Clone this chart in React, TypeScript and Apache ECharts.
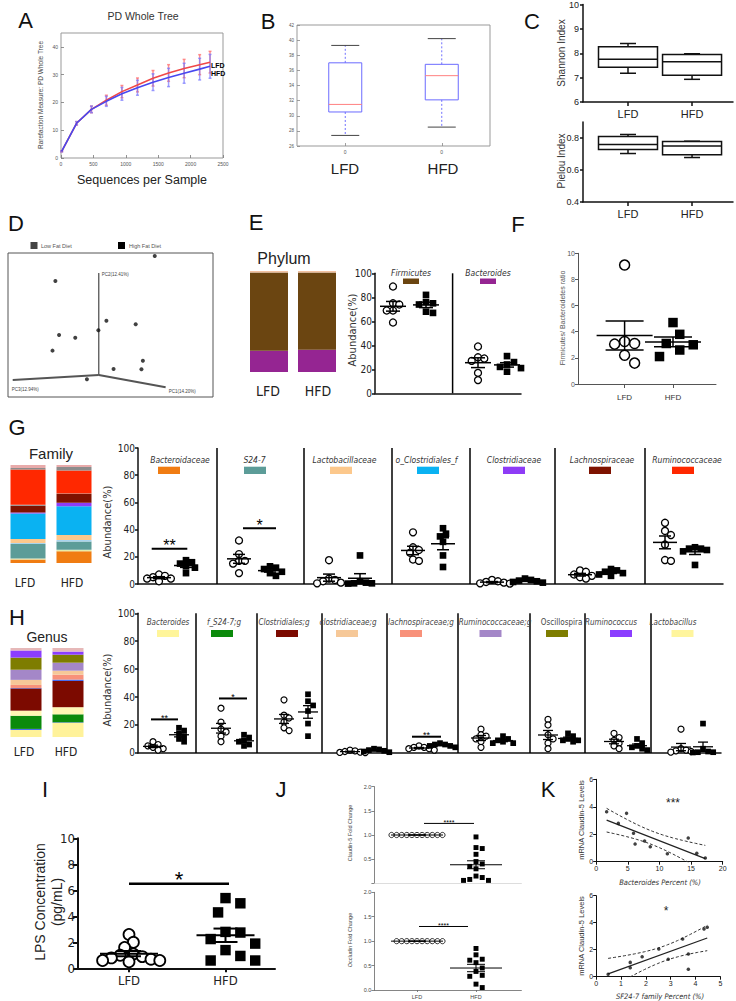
import React, { useEffect, useRef } from "react";
import * as echarts from "echarts";

/* ====================== DATA ====================== */
// A — rarefaction (PD whole tree)
const rareDepth = [10, 240, 470, 700, 940, 1180, 1420, 1660, 1900, 2140, 2300];
const rareLFD = [2.4, 12.5, 17.5, 20.8, 23.9, 26.3, 28.7, 30.6, 32.2, 33.6, 34.5];
const rareHFD = [2.4, 12.5, 17.5, 20.4, 23.1, 25.3, 27.3, 29.0, 30.5, 32.0, 33.0];
const rareSdLFD = [0.2, 0.6, 1.2, 1.8, 2.2, 2.5, 2.8, 3.0, 3.3, 3.6, 3.9];
const rareSdHFD = [0.2, 0.6, 1.2, 1.8, 2.3, 2.7, 3.0, 3.3, 3.6, 3.9, 4.3];

// B — PD whole tree box plot [min, q1, median, q3, max]
const pdBoxLFD = [27.4, 30.5, 31.5, 37.0, 39.3];
const pdBoxHFD = [28.5, 32.1, 35.3, 36.8, 40.2];

// C — Shannon / Pielou box plots
const shannonLFD = [7.18, 7.43, 7.75, 8.27, 8.4];
const shannonHFD = [6.93, 7.1, 7.65, 7.95, 7.98];
const pielouLFD = [0.703, 0.728, 0.76, 0.81, 0.822];
const pielouHFD = [0.678, 0.695, 0.75, 0.778, 0.78];

// D — PCoA (projected coordinates, 0-100)
const pcaPoints = [[71.6, 97.9], [23.1, 80.6], [48.0, 53.0], [62.3, 50.5], [24.9, 43.1], [32.8, 41.2], [44.1, 46.3], [21.7, 32.2], [65.8, 25.2], [51.5, 19.4], [65.1, 19.2], [38.5, 12.3]];
const pcaOrigin = [44.3, 15.3];
const pcaAxisEnds = [[44.3, 86.1], [76.9, 6.7], [2.3, 11.8]];
const pcaAxisNames = ["PC2(12.41%)", "PC1(14.20%)", "PC3(12.94%)"];
const dietNames = ["Low Fat Diet", "High Fat Diet"];

const groups = ["LFD", "HFD"];

// E — phylum
const phylumNames = ["Bacteroidetes", "Firmicutes", "Other"];
const phylumLFD = [21, 77.5, 1.5];
const phylumHFD = [22, 76.5, 1.5];
const phylumTaxa = ["Firmicutes", "Bacteroides"];
const firmicutesLFD = [89, 75, 74, 69, 69, 59];
const firmicutesHFD = [82, 76, 75, 74, 68, 67];
const bacteroidesLFD = [39, 30, 29, 27, 17, 11];
const bacteroidesHFD = [31, 26, 24, 22, 21, 18];

// F — Firmicutes / Bacteroidetes ratio
const ratioLFD = [9.1, 3.25, 3.1, 3.05, 2.2, 1.6];
const ratioHFD = [4.7, 3.8, 3.1, 3.0, 2.6, 2.1];

// G — family
const familyStackNames = ["Bacteroidaceae", "other_a", "S24-7", "other_b", "Lactobacillaceae", "o_Clostridiales_f", "Clostridiaceae", "Lachnospiraceae", "other_c", "Ruminococcaceae", "other_d", "other_e"];
const familyStackLFD = [3.5, 1, 15, 1, 4, 26, 1, 7, 1, 36, 1.5, 3];
const familyStackHFD = [12, 1.5, 8.5, 1.5, 5, 29.5, 3.5, 9, 0.5, 23.5, 3.5, 2];
const familyTaxa = ["Bacteroidaceae", "S24-7", "Lactobacillaceae", "o_Clostridiales_f", "Clostridiaceae", "Lachnospiraceae", "Ruminococcaceae"];
const familyLFD = [[7, 6, 5, 4, 4, 2], [32, 22, 17, 17, 15, 8], [17.5, 4, 3, 2, 1, 0.5], [38, 27, 25, 23, 18, 17], [3, 2, 1.5, 1, 0.5, 0.3], [10, 9, 7, 6, 5, 4], [45, 39, 36, 29, 17.6, 17]];
const familyHFD = [[17.5, 16, 15, 13, 12, 8], [13, 12, 11, 9, 8, 6], [21, 2, 1, 0.5, 0.5, 0.3], [41, 37, 35, 31, 21, 12.5], [4, 3, 2.5, 2, 1.5, 1], [11, 10, 9, 8, 7, 6], [27, 26, 26, 25, 24, 14]];
const familySigLevel = [26, 41];
const familySigMark = ["**", "*"];

// H — genus
const genusStackNames = ["Lactobacillus", "other_a", "f_S24-7;g", "Bacteroides", "Clostridiales;g", "other_b", "lachnospiraceae;g", "clostridiaceae;g", "Ruminococcaceae;g", "Oscillospira", "Ruminococcus", "other_c"];
const genusStackLFD = [8, 1.1, 14.8, 5.7, 25, 0.5, 3.4, 5.7, 11.4, 13.6, 8, 2.8];
const genusStackHFD = [16, 0.5, 9, 8, 29.5, 1.5, 5.5, 4.5, 9, 9, 3.5, 4];
const genusTaxa = ["Bacteroides", "f_S24-7;g", "Clostridiales;g", "clostridiaceae;g", "lachnospiraceae;g", "Ruminococcaceae;g", "Oscillospira", "Ruminococcus", "Lactobacillus"];
const genusLFD = [[8, 6, 5, 4, 3, 2], [32, 22, 17, 15, 12, 8], [38, 27, 25, 22, 18, 16], [2, 1.5, 1, 0.5, 0.3, 0.2], [5, 4, 4, 3, 3, 2], [17, 13, 12, 10, 8, 4], [24, 20, 13, 10, 7, 3], [14, 11, 9, 7, 5, 3], [17, 3, 2, 1.5, 1, 0.5]];
const genusHFD = [[18, 16, 14, 12, 10, 8], [13, 11, 9, 8, 6, 5], [42, 37, 34, 30, 21, 12], [3, 2.5, 2, 1.5, 1, 0.5], [7, 6, 6, 5, 5, 4], [12, 10, 9, 8, 7, 7], [14, 12, 10, 9, 9, 8], [10, 7, 5, 4, 3, 2], [21, 3, 1, 0.5, 0.5, 0.3]];
const genusSigLevel = [24, 39, 11.6];
const genusSigMark = ["**", "*", "**"];

// I — LPS
const lpsLFD = [2.6, 2.0, 1.6, 1.1, 1.0, 0.9, 0.8, 0.7, 0.6, 0.6, 0.5];
const lpsHFD = [5.4, 5.0, 4.3, 2.8, 2.75, 2.25, 1.9, 1.4, 0.95, 0.6, 0.6];
const lpsSigLevel = 6.5;

// J — fold change
const claudinLFD = [1, 1, 1, 1, 1, 1, 1, 1, 1, 1, 1];
const claudinHFD = [0.96, 0.74, 0.72, 0.6, 0.45, 0.4, 0.35, 0.3, 0.12, 0.08, 0.06, 0.06, 0.15];
const occludinLFD = [1, 1, 1, 1, 1, 1, 1, 1, 1, 1];
const occludinHFD = [0.85, 0.72, 0.63, 0.61, 0.56, 0.45, 0.38, 0.3, 0.28, 0.12, 0.05];
const claudinSigLevel = 1.24;
const occludinSigLevel = 1.3;

// K — correlations
const bactPct = [1.65, 3.5, 4.8, 5.9, 6.15, 7.65, 8.55, 11.25, 14.55, 15.9, 17.25];
const claudinVsBact = [3.64, 2.79, 3.52, 2.07, 1.29, 1.5, 1.09, 0.58, 1.72, 0.61, 0.27];
const sf24Pct = [0.48, 1.37, 1.37, 1.85, 2.52, 2.9, 3.48, 3.71, 3.71, 4.34, 4.47];
const claudinVsSf24 = [0.18, 1.06, 0.67, 1.48, 2.05, 1.29, 2.79, 1.68, 0.55, 3.53, 3.66];
const T975_DF9 = 2.262;

/* ====================== STYLE / LAYOUT ====================== */
const SANS = "'Liberation Sans', Arial, Helvetica, sans-serif";
const NARROW = "'Liberation Sans Narrow', 'DejaVu Sans Condensed', 'Liberation Sans', sans-serif";
const phylumColors = ["#952592", "#6B4511", "#F2C2A2"];
const phylumSwatch = ["#6B4511", "#952592"];
const familyStackColors = ["#F07C12", "#E8ECA8", "#5C9C98", "#A8D4EE", "#FCC88C", "#0AB2F2", "#8E3CF6", "#7E1200", "#8A8A8A", "#FF2800", "#8C8C8C", "#E8AAAA"];
const familyColors = ["#F07C12", "#5C9C98", "#FCC88C", "#0AB2F2", "#8E3CF6", "#7E1200", "#FF2800"];
const genusStackColors = ["#FFF29A", "#2E5BE8", "#0B8A0B", "#FFF6B4", "#7C0A00", "#3A62F0", "#F8917A", "#F6C898", "#A487C8", "#7E7D00", "#8B3DFF", "#E6B8B8"];
const genusColors = ["#FFF59A", "#0B8A0B", "#7C0A00", "#F6C898", "#F8917A", "#A487C8", "#7E7D00", "#8B3DFF", "#FFF59D"];

const G_DIV = [217, 304, 392, 470, 555, 645];
const G_CENTERS = [[159, 186], [239, 270], [329, 360], [413, 443], [492, 525], [580, 611], [665, 695]];
const G_LABEL_X = [180, 254.5, 344.5, 426.5, 514, 602, 687];
const G_SWATCH_X = [169, 255, 341, 428, 514, 600, 683];
const G_SIG_X = [[151.7, 187.3], [243, 276]];
const H_DIV = [196, 257, 322, 387, 458, 530, 585, 651];
const H_CENTERS = [[153, 179], [221, 244], [284, 308], [350, 374], [419, 440], [481, 503], [548, 568], [614, 637], [681, 703]];
const H_LABEL_X = [168, 224, 284, 348, 421, 495, 561.6, 611, 673];
const H_SWATCH_X = [168, 222, 287, 347, 411, 490.5, 557, 621, 682.5];
const H_SIG_X = [[151, 178], [219, 247], [412, 441]];

/* ====================== HELPERS ====================== */
function mean(v: number[]) { return v.reduce((a, b) => a + b, 0) / v.length; }
function sem(v: number[]) {
  const m = mean(v);
  return Math.sqrt(v.reduce((a, b) => a + (b - m) * (b - m), 0) / (v.length - 1)) / Math.sqrt(v.length);
}
function swarm(values: number[], cx: number, pxPerY: number, size: number, factor: number) {
  const order = values.map((_, i) => i).sort((a, b) => values[b] - values[a]);
  const placed: number[][] = [];
  const out: number[][] = new Array(values.length);
  const minD = size * factor;
  for (const i of order) {
    const py = values[i] * pxPerY;
    let dx = 0;
    for (let k = 0; k < 80; k++) {
      const step = Math.ceil(k / 2) * (k % 2 ? 1 : -1) * minD * 0.5;
      if (placed.every(([qx, qy]) => Math.hypot(qx - step, qy - py) >= minD)) { dx = step; break; }
    }
    placed.push([dx, py]);
    out[i] = [cx + dx, values[i]];
  }
  return out;
}
function linreg(xs: number[], ys: number[]) {
  const n = xs.length, mx = mean(xs), my = mean(ys);
  let sxx = 0, sxy = 0;
  xs.forEach((x, i) => { sxx += (x - mx) ** 2; sxy += (x - mx) * (ys[i] - my); });
  const b = sxy / sxx, a = my - b * mx;
  let sse = 0;
  xs.forEach((x, i) => { sse += (ys[i] - (a + b * x)) ** 2; });
  return { a, b, s: Math.sqrt(sse / (n - 2)), mx, sxx, n };
}
const AL = { textAlign: "center", align: "center", textVerticalAlign: "middle", verticalAlign: "middle" };

function buildOption() {
  const grid: any[] = [], xAxis: any[] = [], yAxis: any[] = [], series: any[] = [], graphic: any[] = [];
  const addGrid = (r: number[], xa: any, ya: any, g: any = {}) => {
    const i = grid.length;
    grid.push({ left: r[0], top: r[1], width: r[2], height: r[3], containLabel: false, ...g });
    xAxis.push({ gridIndex: i, ...xa });
    yAxis.push({ gridIndex: i, ...ya });
    return i;
  };
  const text = (t: string, x: number, y: number, s: any = {}, rot = 0) => {
    graphic.push({ type: "text", x, y, rotation: rot, silent: true, z: 20,
      style: { text: t, fill: "#222", fontSize: 12, fontFamily: SANS, ...AL, ...s } });
  };
  const rect = (x: number, y: number, w: number, h: number, fill: string) =>
    graphic.push({ type: "rect", shape: { x, y, width: w, height: h }, style: { fill }, silent: true, z: 20 });

  const yAx = (min: number, max: number, interval: number, fs: number, o: any = {}) => ({
    type: "value", min, max, interval,
    axisLine: { show: o.line ?? true, onZero: false, lineStyle: { color: o.color || "#111", width: o.lw ?? 1.5 } },
    axisTick: { show: true, length: o.tick ?? 3, inside: !!o.inside, lineStyle: { color: o.color || "#111", width: o.lw ?? 1.5 } },
    axisLabel: { fontSize: fs, color: o.labelColor || "#222", margin: o.margin ?? 3, fontFamily: o.font || NARROW, formatter: o.fmt, showMaxLabel: o.showMax ?? true },
    splitLine: { show: false },
  });
  const xAx = (min: number, max: number, o: any = {}) => ({
    type: "value", min, max,
    axisLine: { show: o.line ?? true, onZero: false, lineStyle: { color: o.color || "#111", width: o.lw ?? 1.5 } },
    axisTick: o.ticks ? { show: true, customValues: o.ticks, inside: !!o.inside, length: o.tick ?? 4, lineStyle: { color: o.color || "#111", width: o.lw ?? 1.5 } } : { show: false },
    axisLabel: o.names ? {
      show: true, customValues: o.ticks, fontSize: o.fs, color: o.labelColor || "#222", margin: o.margin ?? 4, fontFamily: o.font || SANS,
      formatter: (v: number) => {
        let best = 0;
        o.ticks.forEach((p: number, i: number) => { if (Math.abs(p - v) < Math.abs(o.ticks[best] - v)) best = i; });
        return o.names[best];
      },
    } : { show: false },
    splitLine: { show: false },
  });
  const numX = (min: number, max: number, interval: number, fs: number) => ({
    type: "value", min, max, interval,
    axisLine: { show: true, onZero: false, lineStyle: { color: "#111", width: 1 } },
    axisTick: { show: true, length: 3, lineStyle: { color: "#111", width: 1 } },
    axisLabel: { fontSize: fs, color: "#222", margin: 3, fontFamily: SANS },
    splitLine: { show: false },
  });

  const addBoxes = (gi: number, items: number[][], xs: number[], halfW: number, st: any) => {
    series.push({
      type: "custom", xAxisIndex: gi, yAxisIndex: gi, silent: true, z: 3,
      data: items.map((b, i) => [xs[i], ...b]),
      renderItem: (_p: any, api: any) => {
        const x = api.value(0);
        const c = [1, 2, 3, 4, 5].map((k) => api.coord([x, api.value(k)]));
        const cx = c[0][0];
        const w = { stroke: st.whisk, lineWidth: st.lw, ...(st.dash ? { lineDash: st.dash } : {}) };
        const cap = { stroke: st.cap, lineWidth: st.lw };
        return { type: "group", children: [
          { type: "line", shape: { x1: cx, y1: c[3][1], x2: cx, y2: c[4][1] }, style: w },
          { type: "line", shape: { x1: cx, y1: c[1][1], x2: cx, y2: c[0][1] }, style: w },
          { type: "line", shape: { x1: cx - st.capW, y1: c[4][1], x2: cx + st.capW, y2: c[4][1] }, style: cap },
          { type: "line", shape: { x1: cx - st.capW, y1: c[0][1], x2: cx + st.capW, y2: c[0][1] }, style: cap },
          { type: "rect", shape: { x: cx - halfW, y: c[3][1], width: 2 * halfW, height: c[1][1] - c[3][1] }, style: { fill: "none", stroke: st.box, lineWidth: st.lw } },
          { type: "line", shape: { x1: cx - halfW, y1: c[2][1], x2: cx + halfW, y2: c[2][1] }, style: { stroke: st.med, lineWidth: st.lw } },
        ] };
      },
    });
  };
  const addMeanSem = (gi: number, items: number[][], wMean: number, wCap: number, lw: number) => {
    series.push({
      type: "custom", xAxisIndex: gi, yAxisIndex: gi, silent: true, z: 5, data: items,
      renderItem: (_p: any, api: any) => {
        const x = api.value(0), m = api.value(1), s = api.value(2);
        const c = api.coord([x, m]), t = api.coord([x, m + s]), b = api.coord([x, m - s]);
        const ls = { stroke: "#000", lineWidth: lw };
        return { type: "group", children: [
          { type: "line", shape: { x1: c[0] - wMean, y1: c[1], x2: c[0] + wMean, y2: c[1] }, style: ls },
          { type: "line", shape: { x1: c[0], y1: t[1], x2: c[0], y2: b[1] }, style: ls },
          { type: "line", shape: { x1: c[0] - wCap, y1: t[1], x2: c[0] + wCap, y2: t[1] }, style: ls },
          { type: "line", shape: { x1: c[0] - wCap, y1: b[1], x2: c[0] + wCap, y2: b[1] }, style: ls },
        ] };
      },
    });
  };
  const addDots = (gi: number, lfd: number[], hfd: number[], cL: number, cH: number, pxPerY: number, size: number, bw: number, wMean: number, wCap: number, lw: number, f: number[]) => {
    series.push({ type: "scatter", xAxisIndex: gi, yAxisIndex: gi, silent: true, z: 3, data: swarm(lfd, cL, pxPerY, size, f[0]),
      symbol: "circle", symbolSize: size, itemStyle: { color: "#fff", borderColor: "#000", borderWidth: bw, opacity: 1 } });
    series.push({ type: "scatter", xAxisIndex: gi, yAxisIndex: gi, silent: true, z: 3, data: swarm(hfd, cH, pxPerY, size, f[1]),
      symbol: "rect", symbolSize: size * 0.95, itemStyle: { color: "#000", opacity: 1 } });
    addMeanSem(gi, [[cL, mean(lfd), sem(lfd)], [cH, mean(hfd), sem(hfd)]], wMean, wCap, lw);
  };
  const addDividers = (gi: number, xs: number[], yBot: number, yTop: number, lw: number) => {
    series.push({ type: "custom", xAxisIndex: gi, yAxisIndex: gi, silent: true, z: 2, data: xs.map((x) => [x, yBot]),
      renderItem: (_p: any, api: any) => {
        const a = api.coord([api.value(0), yBot]), b = api.coord([api.value(0), yTop]);
        return { type: "line", shape: { x1: a[0], y1: a[1], x2: b[0], y2: b[1] }, style: { stroke: "#000", lineWidth: lw } };
      } });
  };
  const addSig = (gi: number, x1: number, x2: number, y: number, mark: string, fs: number, lw: number) => {
    series.push({ type: "custom", xAxisIndex: gi, yAxisIndex: gi, silent: true, z: 6, data: [[x1, y, x2]],
      renderItem: (_p: any, api: any) => {
        const a = api.coord([api.value(0), api.value(1)]), b = api.coord([api.value(2), api.value(1)]);
        return { type: "group", children: [
          { type: "line", shape: { x1: a[0], y1: a[1], x2: b[0], y2: b[1] }, style: { stroke: "#000", lineWidth: lw } },
          { type: "text", style: { text: mark, x: (a[0] + b[0]) / 2, y: a[1] - fs * 0.2, fill: "#000", fontSize: fs, fontFamily: SANS, ...AL } },
        ] };
      } });
  };
  const addReg = (gi: number, xs: number[], ys: number[]) => {
    const r = linreg(xs, ys);
    const x0 = Math.min(...xs), x1 = Math.max(...xs);
    series.push({ type: "line", xAxisIndex: gi, yAxisIndex: gi, silent: true, symbol: "none", z: 4,
      data: [[x0, r.a + r.b * x0], [x1, r.a + r.b * x1]], lineStyle: { color: "#222", width: 1.3 } });
    const up: number[][] = [], lo: number[][] = [];
    const N = 30;
    for (let k = 0; k <= N; k++) {
      const x = x0 + ((x1 - x0) * k) / N;
      const yh = r.a + r.b * x;
      const h = T975_DF9 * r.s * Math.sqrt(1 / r.n + (x - r.mx) ** 2 / r.sxx);
      up.push([x, yh + h]); lo.push([x, yh - h]);
    }
    [up, lo].forEach((d) => series.push({ type: "line", xAxisIndex: gi, yAxisIndex: gi, silent: true, symbol: "none", z: 4, clip: true,
      data: d, lineStyle: { color: "#333", width: 1, type: [3, 2] } }));
  };
  const stackBars = (gi: number, names: string[], l: number[], h: number[], colors: string[], bw: number, key: string) => {
    names.forEach((n, k) => series.push({ type: "bar", name: n, xAxisIndex: gi, yAxisIndex: gi, stack: key, barWidth: bw, silent: true,
      data: [l[k], h[k]], itemStyle: { color: colors[k] } }));
  };
  const hiddenCat = { type: "category", data: groups, show: false };
  const hiddenVal = { type: "value", min: 0, max: 100, show: false };

  /* ---------- panel letters ---------- */
  const L = { fontSize: 22, fill: "#111" };
  text("A", 25.5, 20, L); text("B", 268, 21, L); text("C", 532, 21, L);
  text("D", 16, 223, L); text("E", 256, 222, L); text("F", 518, 224, L);
  text("G", 17, 427, L); text("H", 17, 617, L);
  text("I", 45, 789, L); text("J", 281, 789, L); text("K", 548, 789, L);

  /* ---------- A ---------- */
  const thinTick = { show: true, inside: true, length: 3, lineStyle: { color: "#777", width: 0.8 } };
  const gA = addGrid([61, 33, 162, 125],
    { type: "value", min: 0, max: 2500, interval: 500, axisLine: { show: false }, axisTick: thinTick, axisLabel: { fontSize: 5, color: "#555", margin: 3, formatter: (v: number) => String(v) }, splitLine: { show: false } },
    { type: "value", min: 0, max: 45, interval: 10, axisLine: { show: false }, axisTick: thinTick, axisLabel: { fontSize: 5, color: "#555", margin: 3, showMaxLabel: false }, splitLine: { show: false } },
    { show: true, borderColor: "#999", borderWidth: 1 });
  const errBar = (col: string) => (_p: any, api: any) => {
    const x = api.value(0), y = api.value(1), s = api.value(2);
    const t = api.coord([x, y + s]), b = api.coord([x, y - s]);
    const st = { stroke: col, lineWidth: 1.5 };
    return { type: "group", children: [
      { type: "line", shape: { x1: t[0], y1: t[1], x2: b[0], y2: b[1] }, style: st },
      { type: "line", shape: { x1: t[0] - 1.5, y1: t[1], x2: t[0] + 1.5, y2: t[1] }, style: st },
      { type: "line", shape: { x1: b[0] - 1.5, y1: b[1], x2: b[0] + 1.5, y2: b[1] }, style: st },
    ] };
  };
  series.push({ type: "custom", xAxisIndex: gA, yAxisIndex: gA, silent: true, z: 1, data: rareDepth.map((d, i) => [d, rareLFD[i], rareSdLFD[i]]), renderItem: errBar("rgba(255,110,110,0.75)") });
  series.push({ type: "custom", xAxisIndex: gA, yAxisIndex: gA, silent: true, z: 1, data: rareDepth.map((d, i) => [d, rareHFD[i], rareSdHFD[i]]), renderItem: errBar("rgba(120,120,255,0.7)") });
  series.push({ type: "line", xAxisIndex: gA, yAxisIndex: gA, silent: true, symbol: "none", z: 3, data: rareDepth.map((d, i) => [d, rareLFD[i]]), lineStyle: { color: "#f04848", width: 1.6 } });
  series.push({ type: "line", xAxisIndex: gA, yAxisIndex: gA, silent: true, symbol: "none", z: 3, data: rareDepth.map((d, i) => [d, rareHFD[i]]), lineStyle: { color: "#4848f0", width: 1.6 } });
  text("PD Whole Tree", 143, 16, { fontSize: 10.5, fill: "#333" });
  text("Rarefaction Measure: PD Whole Tree", 40, 95, { fontSize: 6.5, fill: "#444" }, Math.PI / 2);
  text("Sequences per Sample", 142, 180, { fontSize: 12.5 });
  text("LFD", 211, 65, { fontSize: 7, fontWeight: "bold", fill: "#000", textAlign: "left", align: "left" });
  text("HFD", 211, 73, { fontSize: 7, fontWeight: "bold", fill: "#000", textAlign: "left", align: "left" });

  /* ---------- B ---------- */
  const gB = addGrid([297, 25, 193, 121],
    xAx(0.5, 2.5, { ticks: [1, 2], names: ["0", "0"], fs: 5, color: "#888", lw: 0.8, line: false, tick: 3, inside: true, margin: 3, labelColor: "#555" }),
    yAx(26, 42, 2, 4.5, { color: "#888", lw: 0.8, inside: true, labelColor: "#555", font: SANS, line: false }),
    { show: true, borderColor: "#999", borderWidth: 1 });
  addBoxes(gB, [pdBoxLFD, pdBoxHFD], [1, 2], 16.5, { box: "#6b6bff", med: "#ff8080", whisk: "#7070ff", cap: "#444", dash: [2, 2], lw: 1, capW: 14 });
  text("LFD", 345, 168, { fontSize: 15 }); text("HFD", 443, 168, { fontSize: 15 });

  /* ---------- C ---------- */
  const C_POS = [0.3, 0.727];
  const gC1 = addGrid([583, 4, 150, 98], xAx(0, 1, { ticks: C_POS, names: groups, fs: 11, margin: 6 }), yAx(6, 10, 1, 9, { font: SANS, margin: 4 }));
  const gC2 = addGrid([583, 122, 150, 80], xAx(0, 1, { ticks: C_POS, names: groups, fs: 11, margin: 6 }),
    yAx(0.4, 0.9, 0.2, 9, { font: SANS, margin: 4, showMax: false, fmt: (v: number) => v.toFixed(1) }));
  const cStyle = { box: "#111", med: "#111", whisk: "#111", cap: "#111", lw: 1.5, capW: 8 };
  addBoxes(gC1, [shannonLFD, shannonHFD], C_POS, 29.5, cStyle);
  addBoxes(gC2, [pielouLFD, pielouHFD], C_POS, 29.5, cStyle);
  text("Shannon Index", 561, 53, { fontSize: 10, fill: "#333" }, Math.PI / 2);
  text("Pielou Index", 561, 161, { fontSize: 10, fill: "#333" }, Math.PI / 2);

  /* ---------- D ---------- */
  const gD = addGrid([8, 253, 205, 144], { type: "value", min: 0, max: 100, show: false }, { type: "value", min: 0, max: 100, show: false },
    { show: true, borderColor: "#555", borderWidth: 1 });
  pcaAxisEnds.forEach((e, i) => series.push({ type: "line", xAxisIndex: gD, yAxisIndex: gD, silent: true, symbol: "none", z: 2,
    data: [pcaOrigin, e], lineStyle: { color: i === 0 ? "#222" : "#555", width: i === 0 ? 1 : 2 } }));
  series.push({ type: "scatter", xAxisIndex: gD, yAxisIndex: gD, silent: true, z: 3, data: pcaPoints, symbolSize: 4, itemStyle: { color: "#111" } });
  const dpx = (p: number[]) => [8 + p[0] * 2.05, 397 - p[1] * 1.44];
  const pcaLabelOff = [[3, 1], [3, 4], [-1, 9]];
  pcaAxisEnds.forEach((e, i) => {
    const p = dpx(e);
    text(pcaAxisNames[i], p[0] + pcaLabelOff[i][0], p[1] + pcaLabelOff[i][1], { fontSize: 4.5, fill: "#444", textAlign: "left", align: "left" });
  });
  rect(30.5, 242, 7, 7, "#444"); rect(118, 242, 7, 7, "#000");
  text(dietNames[0], 41, 245.5, { fontSize: 5.5, fill: "#555", textAlign: "left", align: "left" });
  text(dietNames[1], 129, 245.5, { fontSize: 5.5, fill: "#555", textAlign: "left", align: "left" });

  /* ---------- E ---------- */
  const gEb = addGrid([245, 271, 96, 101], hiddenCat, hiddenVal);
  stackBars(gEb, phylumNames, phylumLFD, phylumHFD, phylumColors, 38, "phylum");
  text("Phylum", 284, 258, { fontSize: 16 });
  text("LFD", 268, 391, { fontSize: 14, fontFamily: NARROW }); text("HFD", 318, 391, { fontSize: 14, fontFamily: NARROW });
  const gE = addGrid([375, 273.3, 146, 120], xAx(375, 521), yAx(0, 100, 20, 10));
  addDividers(gE, [452.6], 0, 100, 1.5);
  addDots(gE, firmicutesLFD, firmicutesHFD, 393, 426, 1.2, 7, 1.3, 13, 7, 1.5, [0.9, 1.0]);
  addDots(gE, bacteroidesLFD, bacteroidesHFD, 478, 507, 1.2, 7, 1.3, 13, 7, 1.5, [0.9, 1.0]);
  text("Abundance(%)", 352, 330, { fontSize: 11, fontFamily: NARROW, fill: "#333" }, Math.PI / 2);
  [411, 488].forEach((x, i) => {
    text(phylumTaxa[i], x, 273, { fontSize: 8.5, fontStyle: "italic", fontFamily: NARROW, fill: "#333" });
    rect(x - 8, 278.5, 16, 5.5, phylumSwatch[i]);
  });

  /* ---------- F ---------- */
  const gF = addGrid([578, 253.3, 138, 130.7],
    xAx(578, 716, { ticks: [624.6, 673], names: groups, fs: 8, color: "#555", lw: 1, margin: 9, labelColor: "#333" }),
    yAx(0, 10, 2, 7, { color: "#555", lw: 1, labelColor: "#555", font: SANS }));
  addDots(gF, ratioLFD, ratioHFD, 624.6, 673, 13.07, 10, 1.5, 28, 19, 1.5, [1.0, 1.35]);
  text("Firmicutes/ Bacteroidetes ratio", 562, 318, { fontSize: 7, fill: "#555" }, Math.PI / 2);

  /* ---------- G ---------- */
  const gGb = addGrid([5, 465, 92, 98], hiddenCat, hiddenVal);
  stackBars(gGb, familyStackNames, familyStackLFD, familyStackHFD, familyStackColors, 35, "family");
  text("Family", 51, 453, { fontSize: 15 });
  text("LFD", 25, 583, { fontSize: 12, fontFamily: NARROW }); text("HFD", 72, 583, { fontSize: 12, fontFamily: NARROW });
  const gG = addGrid([138, 448, 585, 136], xAx(138, 723), yAx(0, 100, 20, 10));
  addDividers(gG, G_DIV, 0, 100, 1.5);
  familyTaxa.forEach((t, i) => {
    addDots(gG, familyLFD[i], familyHFD[i], G_CENTERS[i][0], G_CENTERS[i][1], 1.36, 7, 1.3, 12, 6, 1.5, [0.85, 0.85]);
    text(t, G_LABEL_X[i], 460, { fontSize: 8.5, fontStyle: "italic", fontFamily: NARROW, fill: "#333" });
    rect(G_SWATCH_X[i] - 11, 466.7, 22, 7.3, familyColors[i]);
  });
  familySigLevel.forEach((y, k) => addSig(gG, G_SIG_X[k][0], G_SIG_X[k][1], y, familySigMark[k], 16, 2));
  text("Abundance(%)", 107, 522, { fontSize: 11, fontFamily: NARROW, fill: "#333" }, Math.PI / 2);

  /* ---------- H ---------- */
  const gHb = addGrid([5, 648, 84, 89], hiddenCat, hiddenVal);
  stackBars(gHb, genusStackNames, genusStackLFD, genusStackHFD, genusStackColors, 31, "genus");
  text("Genus", 47, 637, { fontSize: 14 });
  text("LFD", 24, 752, { fontSize: 12, fontFamily: NARROW }); text("HFD", 66, 752, { fontSize: 12, fontFamily: NARROW });
  const gH = addGrid([138, 613.3, 583, 139.6], xAx(138, 721), yAx(0, 100, 20, 10));
  addDividers(gH, H_DIV, 0, 100, 1.5);
  genusTaxa.forEach((t, i) => {
    addDots(gH, genusLFD[i], genusHFD[i], H_CENTERS[i][0], H_CENTERS[i][1], 1.396, 6, 1.2, 10, 5, 1.3, [0.85, 0.85]);
    text(t, H_LABEL_X[i], 622.7, { fontSize: 8, fontStyle: t === "Oscillospira" ? "normal" : "italic", fontFamily: NARROW, fill: "#444" });
    rect(H_SWATCH_X[i] - 11, 630, 22, 7, genusColors[i]);
  });
  genusSigLevel.forEach((y, k) => addSig(gH, H_SIG_X[k][0], H_SIG_X[k][1], y, genusSigMark[k], 9, 2));
  text("Abundance(%)", 107, 690, { fontSize: 11, fontFamily: NARROW, fill: "#333" }, Math.PI / 2);

  /* ---------- I ---------- */
  const gI = addGrid([78, 838.3, 197, 130],
    xAx(78, 275, { ticks: [129, 225.5], names: groups, fs: 13, font: NARROW, lw: 2, margin: 6, tick: 4 }),
    yAx(0, 10, 2, 13, { lw: 2, tick: 5 }));
  addDots(gI, lpsLFD, lpsHFD, 129, 225.5, 13, 11, 1.8, 29, 12, 2, [0.8, 1.35]);
  addSig(gI, 129, 229, lpsSigLevel, "*", 22, 2.5);
  text("LPS Concentration", 40, 902, { fontSize: 14 }, Math.PI / 2);
  text("(pg/mL)", 57, 902, { fontSize: 14 }, Math.PI / 2);

  /* ---------- J ---------- */
  const jY = (fmt: any) => yAx(0, 2, 0.5, 5.5, { color: "#666", lw: 0.8, labelColor: "#444", font: SANS, fmt });
  const gJ1 = addGrid([374.4, 786.7, 147, 96.6], xAx(374.4, 521.4, { color: "#ddd", lw: 1 }), jY((v: number) => (v === 0 ? "" : v.toFixed(1))));
  const gJ2 = addGrid([374.4, 892.3, 147, 97.7],
    xAx(374.4, 521.4, { ticks: [417, 476], names: groups, fs: 5.5, color: "#666", lw: 0.8, margin: 4, tick: 2, labelColor: "#444" }),
    jY((v: number) => v.toFixed(1)));
  addDots(gJ1, claudinLFD, claudinHFD, 417, 476, 48.3, 5.2, 0.8, 26, 9, 1, [0.98, 1.2]);
  addSig(gJ1, 424, 474, claudinSigLevel, "****", 7, 1);
  addDots(gJ2, occludinLFD, occludinHFD, 417, 476, 48.85, 5.2, 0.8, 26, 9, 1, [0.98, 1.2]);
  addSig(gJ2, 419, 468, occludinSigLevel, "****", 7, 1);
  text("Claudin-5 Fold Change", 350, 833, { fontSize: 5.5, fill: "#444" }, Math.PI / 2);
  text("Occludin Fold Change", 350, 940, { fontSize: 5.5, fill: "#444" }, Math.PI / 2);

  /* ---------- K ---------- */
  const gK1 = addGrid([596.2, 779.3, 126.5, 82.4], numX(0, 20, 5, 7), yAx(0, 6, 2, 7, { lw: 1, font: SANS }));
  const gK2 = addGrid([596.2, 895.7, 124.2, 81], numX(0, 5, 1, 7), yAx(0, 6, 2, 7, { lw: 1, font: SANS }));
  series.push({ type: "scatter", xAxisIndex: gK1, yAxisIndex: gK1, silent: true, z: 5, symbolSize: 3.5, itemStyle: { color: "#111" }, data: bactPct.map((x, i) => [x, claudinVsBact[i]]) });
  series.push({ type: "scatter", xAxisIndex: gK2, yAxisIndex: gK2, silent: true, z: 5, symbolSize: 3.5, itemStyle: { color: "#111" }, data: sf24Pct.map((x, i) => [x, claudinVsSf24[i]]) });
  addReg(gK1, bactPct, claudinVsBact);
  addReg(gK2, sf24Pct, claudinVsSf24);
  text("***", 673, 803, { fontSize: 12 });
  text("*", 666, 911, { fontSize: 12 });
  text("mRNA Claudin-5 Levels", 581, 820, { fontSize: 7.5, fill: "#333" }, Math.PI / 2);
  text("mRNA Claudin-5 Levels", 581, 936, { fontSize: 7.5, fill: "#333" }, Math.PI / 2);
  text("Bacteroides Percent (%)", 660, 882, { fontSize: 7.5, fontStyle: "italic", fontFamily: NARROW, fill: "#333" });
  text("SF24-7 family Percent (%)", 660, 996, { fontSize: 7.5, fontStyle: "italic", fontFamily: NARROW, fill: "#333" });

  return {
    animation: false,
    backgroundColor: "#fff",
    textStyle: { fontFamily: SANS },
    grid, xAxis, yAxis, series,
    graphic: { elements: graphic },
  };
}

export default function App() {
  const ref = useRef<HTMLDivElement>(null);
  useEffect(() => {
    const chart = echarts.init(ref.current as HTMLDivElement, null, { renderer: "svg" });
    chart.setOption(buildOption() as any);
    return () => chart.dispose();
  }, []);
  return <div ref={ref} style={{ position: "absolute", left: 0, top: 0, width: 736, height: 1001, background: "#fff" }} />;
}
